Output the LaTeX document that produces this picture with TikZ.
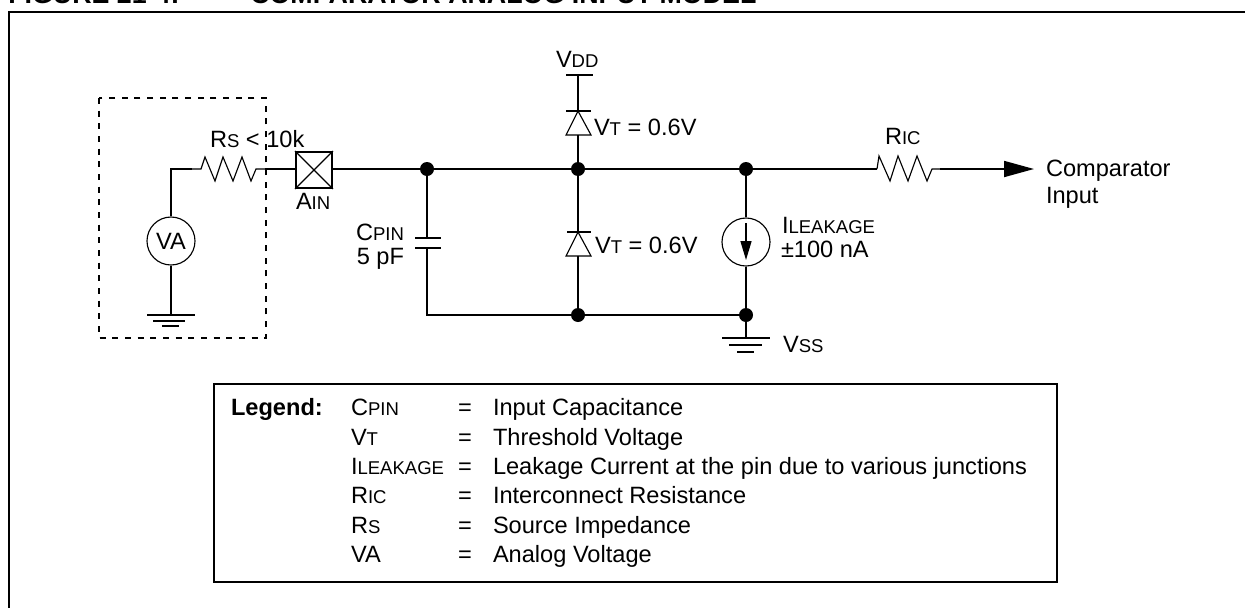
\documentclass[tikz,border=0pt]{standalone}
\usepackage{fontspec}
\setmainfont{Liberation Sans}
\usetikzlibrary{arrows.meta}
\newcommand{\smc}[1]{{\fontsize{13.9}{16}\selectfont #1}}
\tikzset{
  wire/.style={line width=1.35pt},
  thinw/.style={line width=0.85pt},
  lbl/.style={anchor=base west,inner sep=0pt,outer sep=0pt,font=\fontsize{17.7}{20}\selectfont},
  lblr/.style={anchor=base east,inner sep=0pt,outer sep=0pt,font=\fontsize{17.7}{20}\selectfont},
  dot/.style={circle,fill=black,draw=none,minimum size=14*0.75pt,inner sep=0pt},
  src/.style={circle,draw=black,line width=0.85pt,minimum size=48*0.75pt,inner sep=0pt,font=\fontsize{17.7}{20}\selectfont},
  pin/.style={rectangle,draw=black,line width=1.35pt,minimum size=36*0.75pt,inner sep=0pt},
  frame/.style={line width=1.6pt},
  bigtip/.style={-{Triangle[length=30*0.75pt,width=16*0.75pt]}},
  smalltip/.style={-{Triangle[length=19*0.75pt,width=11*0.75pt]}},
}
\begin{document}
\begin{tikzpicture}[x=0.75pt,y=-0.75pt]
\path[use as bounding box] (0,0) rectangle (1245,607);
\clip (0,0) rectangle (1245,607);
% title and frame
\node[anchor=base west,inner sep=0pt,font=\bfseries\fontsize{20.1}{22}\selectfont] (t1) at (8,3) {FIGURE 21-4:};
\node[anchor=base west,inner sep=0pt,font=\bfseries\fontsize{20.1}{22}\selectfont] (t2) at (250,3) {COMPARATOR ANALOG INPUT MODEL};
\draw[frame] (9,620) -- (9,12) -- (1260,12);
% dashed source box
\draw[line width=1.35pt,dash pattern=on 4.5pt off 5pt] (99,98) rectangle (266,338);
% source
\node[src] (va) at (171,241) {VA};
\coordinate (corner) at (171,169);
\coordinate (g1) at (171,315);
\draw[wire] (va.north) -- (corner) -- (192,169);
\draw[wire] (va.south) -- (g1);
\draw[wire] (147,315) -- (g1) -- (195,315);
\draw[wire] (153,321) -- (185,321);
\draw[wire] (162,326) -- (179,326);
% Rs
\coordinate (rs1) at (192,169);
\coordinate (rs2) at (265,169);
\draw[thinw,line join=miter] (rs1) -- (201,169) -- (205,157) -- (215,181) -- (223,157) -- (233,181) -- (242,157) -- (251,181) -- (256,169) -- (rs2);
% pin
\node[pin] (ain) at (314,170) {};
\draw[thinw] (ain.north west) -- (ain.south east) (ain.north east) -- (ain.south west);
\draw[wire] (rs2) -- (ain.west |- rs2);
% junctions
\node[dot] (j1) at (427,169) {};
\node[dot] (j2) at (578,169) {};
\node[dot] (j3) at (746,169) {};
\node[dot] (j4) at (578,315) {};
\node[dot] (j5) at (746,315) {};
\coordinate (ricin) at (877,169);
\draw[wire] (ain.east |- j1) -- (j1) -- (j2) -- (j3) -- (ricin);
% capacitor
\coordinate (cp1) at (427,238);
\coordinate (cp2) at (427,248);
\coordinate (cb) at (427,315);
\draw[wire] (j1) -- (cp1);
\draw[wire] (cp2) -- (cb) -- (j4) -- (j5);
\draw[wire] (415,238) -- (441,238);
\draw[wire] (415,248) -- (441,248);
% Vdd and upper diode
\coordinate (vddb) at (578,75);
\coordinate (d1c) at (578,111);
\coordinate (d1a) at (578,135);
\draw[wire] (566,75) -- (593,75);
\draw[wire] (vddb) -- (d1c);
\draw[wire] (566,111) -- (591,111);
\draw[thinw,line join=miter] (d1c) -- (591,135) -- (566,135) -- cycle;
\draw[wire] (d1a) -- (j2);
% lower diode
\coordinate (d2c) at (578,232);
\coordinate (d2a) at (578,256);
\draw[wire] (j2) -- (d2c);
\draw[wire] (567,232) -- (591,232);
\draw[thinw,line join=miter] (d2c) -- (591,256) -- (566,256) -- cycle;
\draw[wire] (d2a) -- (j4);
% current source
\node[src] (il) at (746,242) {};
\draw[wire] (j3) -- (il.north);
\draw[wire] (il.south) -- (j5);
\coordinate (ila) at (746,223);
\coordinate (ilb) at (746,260);
\draw[line width=1.1pt,smalltip] (ila) -- (ilb);
% ground Vss
\coordinate (g2) at (746,338);
\draw[wire] (j5) -- (g2);
\draw[wire] (722,338) -- (770,338);
\draw[wire] (729,345) -- (762,345);
\draw[wire] (737,352) -- (754,352);
% Ric
\coordinate (ric2) at (940,169);
\coordinate (tip) at (1034,169);
\draw[thinw,line join=miter] (ricin) -- (879,156) -- (890,181) -- (898,156) -- (908,181) -- (917,156) -- (927,181) -- (932,169) -- (ric2);
\draw[wire,bigtip] (ric2) -- (tip);
% labels
\node[lbl] (lrs) at (210,147) {R\smc{S} < 10k};
\node[lbl] (lain) at (296,209) {A\smc{IN}};
\node[lblr] (lcp) at (404,240) {C\smc{PIN}};
\node[lblr] (lcv) at (404,264) {5 pF};
\node[lbl] (lvdd) at (556,67) {V\smc{DD}};
\node[lbl] (lvt1) at (594,135) {V\smc{T} = 0.6V};
\node[lbl] (lvt2) at (595,253) {V\smc{T} = 0.6V};
\node[lbl] (lil) at (782,233) {I\smc{LEAKAGE}};
\node[lbl] (lin) at (781,257) {±100 nA};
\node[lbl] (lvss) at (783,352) {V\smc{SS}};
\node[lbl] (lric) at (885,144) {R\smc{IC}};
\node[lbl] (lc1) at (1046,176) {Comparator};
\node[lbl] (lc2) at (1046,203) {Input};
% legend
\draw[frame] (214,384) rectangle (1057,582);
\node[lbl,font=\bfseries\fontsize{17.7}{20}\selectfont] (lg) at (231,415) {Legend:};
\node[lbl] (a1) at (351,415) {C\smc{PIN}};
\node[lbl] (a2) at (351,445) {V\smc{T}};
\node[lbl] (a3) at (351,474) {I\smc{LEAKAGE}};
\node[lbl] (a4) at (351,503) {R\smc{IC}};
\node[lbl] (a5) at (351,533) {R\smc{S}};
\node[lbl] (a6) at (351,562) {VA};
\node[lbl] (b1) at (458,415) {=};
\node[lbl] (b2) at (458,445) {=};
\node[lbl] (b3) at (458,474) {=};
\node[lbl] (b4) at (458,503) {=};
\node[lbl] (b5) at (458,533) {=};
\node[lbl] (b6) at (458,562) {=};
\node[lbl] (c1) at (493,415) {Input Capacitance};
\node[lbl] (c2) at (493,445) {Threshold Voltage};
\node[lbl] (c3) at (493,474) {Leakage Current at the pin due to various junctions};
\node[lbl] (c4) at (493,503) {Interconnect Resistance};
\node[lbl] (c5) at (493,533) {Source Impedance};
\node[lbl] (c6) at (493,562) {Analog Voltage};
\end{tikzpicture}
\end{document}
